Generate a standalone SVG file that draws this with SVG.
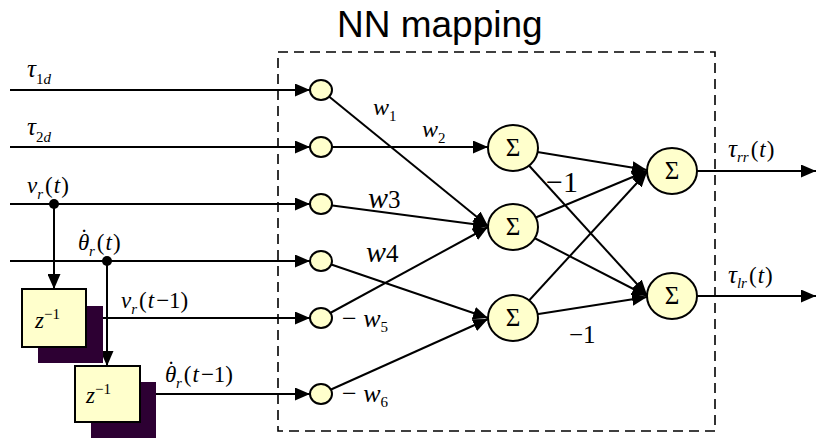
<svg xmlns="http://www.w3.org/2000/svg" width="816" height="439" viewBox="0 0 816 439">
<style>
.ln{stroke:#000;stroke-width:2;fill:none}
.ar{marker-end:url(#ah)}
.nd{fill:#FFFFCC;stroke:#000;stroke-width:2}
.sh{fill:#2D0033}
.v{font-family:"Liberation Serif","Times New Roman",serif;font-style:italic;font-size:23px;fill:#000}
.n{font-style:normal}
.s{font-style:normal;font-size:15px}
.si{font-style:italic;font-size:15px}
.sg{font-family:"Liberation Serif","Times New Roman",serif;font-size:25px;text-anchor:middle}
.t{font-family:"Liberation Sans",Arial,sans-serif;font-size:37px}
</style>
<defs>
<marker id="ah" markerWidth="15" markerHeight="13" refX="15" refY="6.5" orient="auto" markerUnits="userSpaceOnUse"><path d="M0,0 L15,6.5 L0,13 z" fill="#000"/></marker>
</defs>
<rect x="0" y="0" width="816" height="439" fill="#fff"/>
<text class="t" x="337" y="37">NN mapping</text>
<rect id="nnbox" x="278" y="52" width="437" height="379" fill="none" stroke="#000" stroke-width="1.6" stroke-dasharray="10,6"/>
<g id="connectors">
<path class="ln ar" d="M10,90 L310,90"/>
<path class="ln ar" d="M10,147 L310,147"/>
<path class="ln ar" d="M10,204 L310,204"/>
<path class="ln ar" d="M10,261 L310,261"/>
<path class="ln ar" d="M86,318 L310,318"/>
<path class="ln ar" d="M140,394 L310,394"/>
<path class="ln ar" d="M54,204 L54,289"/>
<path class="ln ar" d="M107,261 L107,366"/>
<path class="ln ar" d="M321,90 L488,226"/>
<path class="ln ar" d="M321,147 L488,147"/>
<path class="ln ar" d="M321,204 L488,226"/>
<path class="ln ar" d="M321,261 L488,318"/>
<path class="ln ar" d="M321,318 L488,227"/>
<path class="ln ar" d="M321,394 L488,319"/>
<path class="ln ar" d="M513,148 L647,170"/>
<path class="ln ar" d="M513,148 L647,295"/>
<path class="ln ar" d="M513,227 L647,171"/>
<path class="ln ar" d="M513,227 L647,296"/>
<path class="ln ar" d="M513,318 L647,172"/>
<path class="ln ar" d="M513,318 L647,297"/>
<path class="ln ar" d="M673,171 L816,171"/>
<path class="ln ar" d="M673,296 L816,296"/>
<circle cx="54" cy="204" r="5" fill="#000"/>
<circle cx="107" cy="261" r="5" fill="#000"/>
</g>
<g id="delay1">
<rect class="sh" x="38" y="306" width="65" height="57"/>
<rect class="nd" x="22" y="289" width="64" height="58"/>
<text class="v" x="35" y="328">z<tspan class="s" dy="-9">−1</tspan></text>
</g>
<g id="delay2">
<rect class="sh" x="91" y="382" width="65" height="56"/>
<rect class="nd" x="75" y="366" width="65" height="56"/>
<text class="v" x="86" y="403">z<tspan class="s" dy="-9">−1</tspan></text>
</g>
<g id="in1"><ellipse class="nd" cx="321" cy="90" rx="11" ry="10"/></g>
<g id="in2"><ellipse class="nd" cx="321" cy="147" rx="11" ry="10"/></g>
<g id="in3"><ellipse class="nd" cx="321" cy="204" rx="11" ry="10"/></g>
<g id="in4"><ellipse class="nd" cx="321" cy="261" rx="11" ry="10"/></g>
<g id="in5"><ellipse class="nd" cx="321" cy="318" rx="11" ry="10"/></g>
<g id="in6"><ellipse class="nd" cx="321" cy="394" rx="11" ry="10"/></g>
<g id="sum1"><ellipse class="nd" cx="513" cy="148" rx="25" ry="23"/><text class="sg" x="513" y="156">Σ</text></g>
<g id="sum2"><ellipse class="nd" cx="513" cy="227" rx="25" ry="23"/><text class="sg" x="513" y="235">Σ</text></g>
<g id="sum3"><ellipse class="nd" cx="513" cy="318" rx="25" ry="23"/><text class="sg" x="513" y="326">Σ</text></g>
<g id="out1"><ellipse class="nd" cx="672" cy="171" rx="25" ry="23"/><text class="sg" x="672" y="179">Σ</text></g>
<g id="out2"><ellipse class="nd" cx="672" cy="296" rx="25" ry="23"/><text class="sg" x="672" y="304">Σ</text></g>
<g id="labels">
<text class="v" x="27" y="77" style="font-size:25px">τ<tspan class="s" dy="7">1</tspan><tspan class="si">d</tspan></text>
<text class="v" x="27" y="135" style="font-size:25px">τ<tspan class="s" dy="7">2</tspan><tspan class="si">d</tspan></text>
<text class="v" x="27" y="193">v<tspan class="si" dy="6">r</tspan><tspan class="n" dy="-6" dx="2">(</tspan><tspan dx="1">t</tspan><tspan class="n" dx="1">)</tspan></text>
<text class="v" x="78" y="250">θ<tspan class="n" dx="-9" dy="-5">˙</tspan><tspan class="si" dy="11" dx="1">r</tspan><tspan class="n" dy="-6" dx="2">(</tspan><tspan dx="1">t</tspan><tspan class="n" dx="1">)</tspan></text>
<text class="v" x="121" y="308">v<tspan class="si" dy="6">r</tspan><tspan class="n" dy="-6" dx="2">(</tspan><tspan dx="1">t</tspan><tspan class="n" dx="2">−1)</tspan></text>
<text class="v" x="165" y="382">θ<tspan class="n" dx="-9" dy="-5">˙</tspan><tspan class="si" dy="11" dx="1">r</tspan><tspan class="n" dy="-6" dx="2">(</tspan><tspan dx="1">t</tspan><tspan class="n" dx="2">−1)</tspan></text>
<text class="v" x="728" y="157" style="font-size:25px">τ<tspan class="si" dy="5">rr</tspan><tspan class="n" dy="-5" dx="2" style="font-size:23px">(</tspan><tspan dx="1" style="font-size:23px">t</tspan><tspan class="n" dx="1" style="font-size:23px">)</tspan></text>
<text class="v" x="728" y="283" style="font-size:25px">τ<tspan class="si" dy="5">lr</tspan><tspan class="n" dy="-5" dx="2" style="font-size:23px">(</tspan><tspan dx="1" style="font-size:23px">t</tspan><tspan class="n" dx="1" style="font-size:23px">)</tspan></text>
<text class="v" x="373" y="115" style="font-size:24px">w<tspan class="s" dy="6">1</tspan></text>
<text class="v" x="422" y="137" style="font-size:24px">w<tspan class="s" dy="6">2</tspan></text>
<text class="v" x="368" y="208" style="font-size:30px">w<tspan class="n" style="font-size:25px">3</tspan></text>
<text class="v" x="366" y="262" style="font-size:30px">w<tspan class="n" style="font-size:25px">4</tspan></text>
<text class="v" x="342" y="327" style="font-size:26px"><tspan class="n">−</tspan> w<tspan class="s" dy="5">5</tspan></text>
<text class="v" x="342" y="402" style="font-size:26px"><tspan class="n">−</tspan> w<tspan class="s" dy="5">6</tspan></text>
<text class="v n" x="546" y="192" style="font-size:30px">−1</text>
<text class="v n" x="569" y="343" style="font-size:25px">−1</text>
</g>
</svg>
